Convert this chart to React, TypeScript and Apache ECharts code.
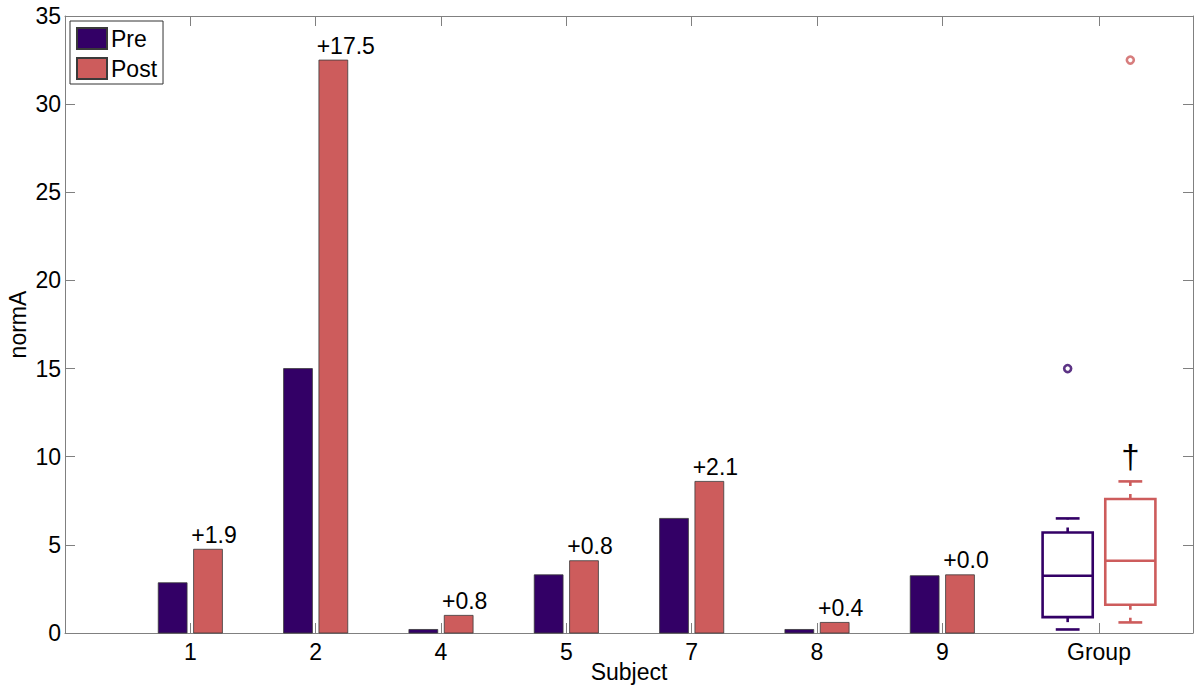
import React, { useEffect, useRef } from "react";
import * as echarts from "echarts";

// ---- data ----
const categories = ["1", "2", "4", "5", "7", "8", "9", "Group"];
const categoryPositions = [1, 2, 3, 4, 5, 6, 7, 8.25];
const preValues = [2.85, 15.0, 0.2, 3.3, 6.5, 0.2, 3.25];
const postValues = [4.75, 32.5, 1.0, 4.1, 8.6, 0.6, 3.3];
const diffLabels = ["+1.9", "+17.5", "+0.8", "+0.8", "+2.1", "+0.4", "+0.0"];
// [lower whisker, Q1, median, Q3, upper whisker]
const preBox = [0.2, 0.9, 3.25, 5.7, 6.5];
const postBox = [0.6, 1.6, 4.1, 7.6, 8.6];
const preOutliers = [15.0];
const postOutliers = [32.5];
const significanceMark = "†";
const significanceValue = 10;
const yTicks = [0, 5, 10, 15, 20, 25, 30, 35];

const PRE_COLOR = "#330066";
const POST_COLOR = "#CD5C5C";
const AXIS_COLOR = "#808080";
const FONT = "Liberation Sans, Arial, Helvetica, sans-serif";
const BAR_W = 0.23;
const BAR_OFF = 0.141;
const BOX_OFF = 0.25;
const BOX_W = 0.4;
const CAP_W = 0.19;

export default function App() {
  const ref = useRef<HTMLDivElement>(null);

  useEffect(() => {
    if (!ref.current) return;
    const chart = echarts.init(ref.current, null, { renderer: "svg" });
    const groupPos = categoryPositions[7];

    const barRender = (offset: number, color: string) => (params: any, api: any) => {
      const x = api.value(0) + offset;
      const v = api.value(1);
      const top = api.coord([x, v]);
      const base = api.coord([x, 0]);
      const w = api.size([BAR_W, 0])[0];
      return {
        type: "rect",
        shape: { x: top[0] - w / 2, y: top[1], width: w, height: base[1] - top[1] },
        style: { fill: color, stroke: "#3a3a3a", lineWidth: 0.8 },
      };
    };

    const boxRender = (params: any, api: any) => {
      const cx = api.value(0);
      const color = params.dataIndex === 0 ? PRE_COLOR : POST_COLOR;
      const lo = api.value(1), q1 = api.value(2), med = api.value(3), q3 = api.value(4), hi = api.value(5);
      const bw = api.size([BOX_W, 0])[0];
      const cw = api.size([CAP_W, 0])[0];
      const c = (v: number) => api.coord([cx, v]);
      const pLo = c(lo), pQ1 = c(q1), pMed = c(med), pQ3 = c(q3), pHi = c(hi);
      const x = pMed[0];
      const st = { stroke: color, lineWidth: 2.6, fill: "none" };
      return {
        type: "group",
        children: [
          { type: "rect", shape: { x: x - bw / 2, y: pQ3[1], width: bw, height: pQ1[1] - pQ3[1] }, style: st },
          { type: "line", shape: { x1: x - bw / 2, y1: pMed[1], x2: x + bw / 2, y2: pMed[1] }, style: st },
          { type: "line", shape: { x1: x, y1: pQ3[1], x2: x, y2: pHi[1] }, style: { ...st, lineDash: [5, 8] } },
          { type: "line", shape: { x1: x, y1: pQ1[1], x2: x, y2: pLo[1] }, style: { ...st, lineDash: [5, 8] } },
          { type: "line", shape: { x1: x - cw / 2, y1: pHi[1], x2: x + cw / 2, y2: pHi[1] }, style: st },
          { type: "line", shape: { x1: x - cw / 2, y1: pLo[1], x2: x + cw / 2, y2: pLo[1] }, style: st },
        ],
      };
    };

    const labelRender = (params: any, api: any) => {
      const p = api.coord([api.value(0), api.value(1)]);
      return {
        type: "text",
        x: p[0] + 1,
        y: p[1] - 3,
        style: {
          text: diffLabels[params.dataIndex],
          fill: "#000",
          font: `23px ${FONT}`,
          align: "left",
          verticalAlign: "bottom",
        },
      };
    };

    const daggerRender = (params: any, api: any) => {
      const p = api.coord([api.value(0), api.value(1)]);
      return {
        type: "text",
        x: p[0],
        y: p[1],
        style: {
          text: significanceMark,
          fill: "#000",
          font: `33px ${FONT}`,
          align: "center",
          verticalAlign: "middle",
        },
      };
    };

    const tickCfg = { show: true, inside: true, length: 10, lineStyle: { color: AXIS_COLOR, width: 1 } };
    const labelFor = (v: number) => {
      const i = categoryPositions.findIndex((p) => Math.abs(p - v) < 1e-6);
      return i >= 0 ? categories[i] : "";
    };

    const option: any = {
      animation: false,
      backgroundColor: "#fff",
      textStyle: { fontFamily: FONT },
      grid: { left: 65, right: 7, top: 16, bottom: 56, containLabel: false, outerBoundsMode: "none" },
      legend: {
        left: 70,
        top: 21,
        orient: "vertical",
        padding: [6, 6, 4, 6],
        itemGap: 7,
        itemWidth: 30,
        itemHeight: 21,
        borderColor: "#333",
        borderWidth: 1,
        backgroundColor: "#fff",
        textStyle: { fontSize: 23, color: "#000", fontFamily: FONT, padding: [0, 0, 0, -1] },
        data: [
          { name: "Pre", icon: "rect" },
          { name: "Post", icon: "rect" },
        ],
      },
      xAxis: [
        {
          type: "value",
          min: 0,
          max: 9,
          name: "Subject",
          nameLocation: "middle",
          nameGap: 27,
          nameMoveOverlap: false,
          nameTextStyle: { fontSize: 23, color: "#000", fontFamily: FONT },
          axisLine: { show: true, lineStyle: { color: AXIS_COLOR, width: 1 } },
          axisTick: { ...tickCfg, customValues: categoryPositions },
          axisLabel: {
            customValues: categoryPositions,
            formatter: (v: number) => labelFor(v),
            fontSize: 23,
            color: "#000",
            margin: 7,
            fontFamily: FONT,
          },
          splitLine: { show: false },
        },
        {
          type: "value",
          position: "top",
          min: 0,
          max: 9,
          axisLine: { show: true, onZero: false, lineStyle: { color: AXIS_COLOR, width: 1 } },
          axisTick: { ...tickCfg, customValues: categoryPositions },
          axisLabel: { show: false },
          splitLine: { show: false },
        },
      ],
      yAxis: [
        {
          type: "value",
          min: 0,
          max: 35,
          interval: 5,
          name: "normA",
          nameLocation: "middle",
          nameGap: 36,
          nameMoveOverlap: false,
          nameTextStyle: { fontSize: 23, color: "#000", fontFamily: FONT },
          axisLine: { show: true, lineStyle: { color: AXIS_COLOR, width: 1 } },
          axisTick: tickCfg,
          axisLabel: {
            fontSize: 23,
            color: "#000",
            margin: 4,
            fontFamily: FONT,
            formatter: (v: number) => (yTicks.includes(v) ? String(v) : ""),
          },
          splitLine: { show: false },
        },
        {
          type: "value",
          position: "right",
          min: 0,
          max: 35,
          interval: 5,
          axisLine: { show: true, onZero: false, lineStyle: { color: AXIS_COLOR, width: 1 } },
          axisTick: tickCfg,
          axisLabel: { show: false },
          splitLine: { show: false },
        },
      ],
      series: [
        {
          name: "Pre",
          type: "custom",
          itemStyle: { color: PRE_COLOR, borderColor: "#3a3a3a", borderWidth: 0.8 },
          renderItem: barRender(-BAR_OFF, PRE_COLOR),
          data: preValues.map((v, i) => [categoryPositions[i], v]),
          encode: { x: 0, y: 1 },
        },
        {
          name: "Post",
          type: "custom",
          itemStyle: { color: POST_COLOR, borderColor: "#3a3a3a", borderWidth: 0.8 },
          renderItem: barRender(BAR_OFF, POST_COLOR),
          data: postValues.map((v, i) => [categoryPositions[i], v]),
          encode: { x: 0, y: 1 },
        },
        {
          name: "labels",
          type: "custom",
          renderItem: labelRender,
          data: postValues.map((v, i) => [categoryPositions[i], v]),
          encode: { x: 0, y: 1 },
          silent: true,
        },
        {
          name: "boxes",
          type: "custom",
          renderItem: boxRender,
          data: [
            [groupPos - BOX_OFF, ...preBox],
            [groupPos + BOX_OFF, ...postBox],
          ],
          encode: { x: 0, y: [1, 2, 3, 4, 5] },
          silent: true,
        },
        {
          name: "preOutliers",
          type: "scatter",
          symbol: "circle",
          symbolSize: 7,
          itemStyle: { color: "#fff", borderColor: PRE_COLOR, borderWidth: 2.6 },
          data: preOutliers.map((v) => [groupPos - BOX_OFF, v]),
          silent: true,
        },
        {
          name: "postOutliers",
          type: "scatter",
          symbol: "circle",
          symbolSize: 7,
          itemStyle: { color: "#fff", borderColor: POST_COLOR, borderWidth: 2.6 },
          data: postOutliers.map((v) => [groupPos + BOX_OFF, v]),
          silent: true,
        },
        {
          name: "significance",
          type: "custom",
          renderItem: daggerRender,
          data: [[groupPos + BOX_OFF, significanceValue]],
          encode: { x: 0, y: 1 },
          silent: true,
        },
      ],
    };

    chart.setOption(option);
    return () => chart.dispose();
  }, []);

  return (
    <div
      ref={ref}
      style={{ position: "fixed", left: 0, top: 0, width: 1200, height: 689, background: "#fff" }}
    />
  );
}
